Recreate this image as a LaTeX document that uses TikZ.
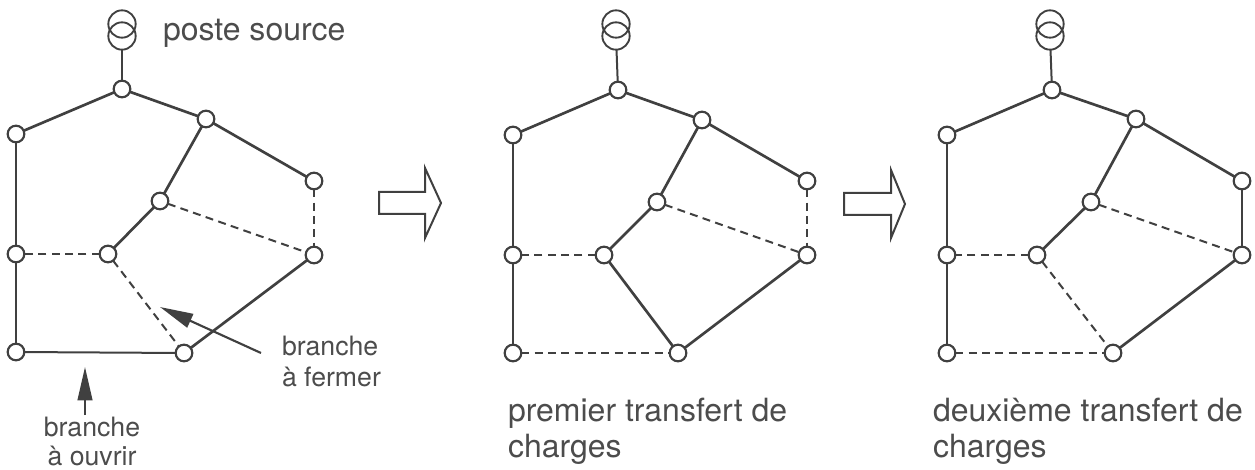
\documentclass[tikz,border=0pt]{standalone}
\usepackage{fontspec}
\setmainfont{TeX Gyre Heros}
\usetikzlibrary{arrows.meta}
\definecolor{encre}{gray}{0.25}
\definecolor{texte}{gray}{0.3}
\tikzset{
  noeud/.style={circle, draw=encre, fill=white, line width=1.6pt, inner sep=0pt, outer sep=0pt, minimum size=12.5pt},
  transfo/.style={circle, draw=encre, line width=1.4pt, inner sep=0pt, outer sep=0pt, minimum size=20.5pt},
  ferme/.style={draw=encre, line width=2pt},
  fin/.style={draw=encre, line width=1.5pt},
  ouvert/.style={draw=encre, line width=1.5pt, dash pattern=on 6pt off 4pt},
  bloc/.style={draw=encre, line width=1.5pt, fill=white, line join=miter},
  fleche/.style={draw=encre, line width=1.6pt, -{Triangle[length=25pt, width=11pt]}},
  legende/.style={text=texte, inner sep=0pt, outer sep=0pt, font=\fontsize{24}{27}\selectfont},
  petite/.style={text=texte, inner sep=0pt, outer sep=0pt, font=\fontsize{20}{23.25}\selectfont}
}
\begin{document}
\begin{tikzpicture}[x=0.75pt, y=-0.75pt]
\useasboundingbox (0,0) rectangle (1255,470);

% premier reseau
\foreach \name/\x/\y in {0/122/89, 1/16/134, 2/206/119, 3/314/181, 4/160/201, 5/108/254, 6/16/254, 7/314/255, 8/16/352, 9/184/353}
  \node [noeud] (a\name) at (\x,\y) {};
\node [transfo] (ah) at (122,24) {};
\node [transfo] (ab) at (122,36) {};
\draw [fin] (ab) -- (a0);
\foreach \i/\j in {0/1, 0/2, 2/3, 2/4, 4/5, 9/7}
  \draw [ferme] (a\i) -- (a\j);
\foreach \i/\j in {1/6, 6/8, 8/9}
  \draw [fin] (a\i) -- (a\j);
\foreach \i/\j in {5/6, 4/7, 3/7, 5/9}
  \draw [ouvert] (a\i) -- (a\j);

% deuxieme reseau
\foreach \name/\x/\y in {0/618/90, 1/513/135, 2/702/120, 3/807/181, 4/657/202, 5/604/255, 6/513/255, 7/807/255, 8/513/353, 9/678/353}
  \node [noeud] (b\name) at (\x,\y) {};
\node [transfo] (bh) at (616,24) {};
\node [transfo] (bb) at (616,36) {};
\draw [fin] (bb) -- (b0);
\foreach \i/\j in {0/1, 0/2, 2/3, 2/4, 4/5, 5/9, 9/7}
  \draw [ferme] (b\i) -- (b\j);
\foreach \i/\j in {1/6, 6/8}
  \draw [fin] (b\i) -- (b\j);
\foreach \i/\j in {5/6, 4/7, 3/7, 8/9}
  \draw [ouvert] (b\i) -- (b\j);

% troisieme reseau
\foreach \name/\x/\y in {0/1052/90, 1/947/135, 2/1136/119, 3/1242/181, 4/1091/202, 5/1037/255, 6/947/255, 7/1242/255, 8/947/353, 9/1113/353}
  \node [noeud] (c\name) at (\x,\y) {};
\node [transfo] (ch) at (1050,24) {};
\node [transfo] (cb) at (1050,36) {};
\draw [fin] (cb) -- (c0);
\foreach \i/\j in {0/1, 0/2, 2/3, 2/4, 4/5, 9/7}
  \draw [ferme] (c\i) -- (c\j);
\foreach \i/\j in {1/6, 6/8, 3/7}
  \draw [fin] (c\i) -- (c\j);
\foreach \i/\j in {5/6, 4/7, 5/9, 8/9}
  \draw [ouvert] (c\i) -- (c\j);

% grosses fleches
\draw [bloc] (379,192) -- (425,192) -- (425,168) -- (441,203) -- (425,238) -- (425,214) -- (379,214) -- cycle;
\draw [bloc] (844,193) -- (891,193) -- (891,170) -- (905,204) -- (891,238) -- (891,215) -- (844,215) -- cycle;

% branches
\coordinate (fa) at (261,353);
\coordinate (fb) at (160,307);
\coordinate (oa) at (85,415);
\coordinate (ob) at (85,367);
\draw [fleche] (fa) -- (fb);
\draw [fleche] (oa) -- (ob);

\node [legende, anchor=base west] (source) at (163,41) {poste source};
\node [petite, anchor=base west] (fermer1) at (282,355) {branche};
\node [petite, anchor=base west] (fermer2) at (282,386) {à fermer};
\node [petite, anchor=base] (ouvrir1) at (92,436) {branche};
\node [petite, anchor=base] (ouvrir2) at (92,465) {à ouvrir};
\node [legende, anchor=base west] (premier1) at (508,421) {premier transfert de};
\node [legende, anchor=base west] (premier2) at (508,457) {charges};
\node [legende, anchor=base west] (deux1) at (933,421) {deuxième transfert de};
\node [legende, anchor=base west] (deux2) at (933,457) {charges};
\end{tikzpicture}
\end{document}
